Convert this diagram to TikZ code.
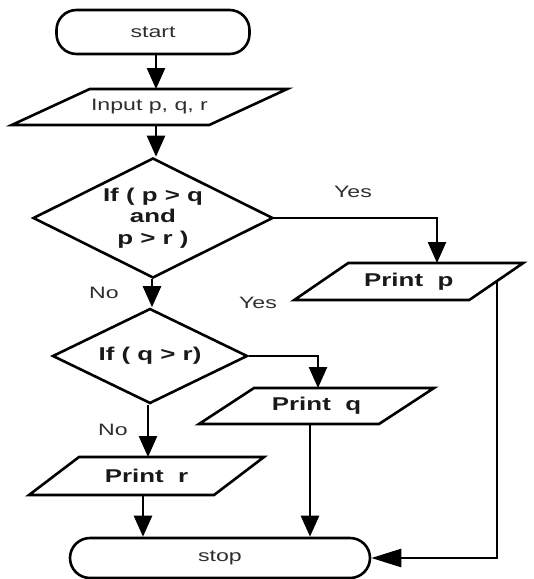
\documentclass[tikz,border=0pt]{standalone}
\usepackage{fontspec}
\setmainfont{Liberation Sans}[FakeStretch=1.4]
\usetikzlibrary{shapes.geometric,arrows.meta}

% outline of a slanted input/output box around a rectangular node
\newcommand\slantbox[2]{%
  \draw[edge] ([xshift=-#2]#1.south west) -- ([xshift=-#2]#1.south east)
    -- ([xshift=#2]#1.north east) -- ([xshift=#2]#1.north west) -- cycle;}

\begin{document}
\begin{tikzpicture}[x=1pt,y=-1pt,
  plain/.style={font=\fontsize{16.5}{19}\selectfont, text=black!82},
  heavy/.style={font=\fontsize{18.5}{21.5}\selectfont\bfseries, text=black!90},
  edge/.style={line width=2.6pt},
  terminal/.style={plain, draw, edge, rectangle, rounded corners=20pt, inner sep=0pt},
  io/.style={rectangle, inner sep=0pt, outer sep=0pt},
  decision/.style={heavy, draw, edge, diamond, aspect=2, inner sep=0pt, align=center},
  arr/.style={edge, -{Triangle[length=21pt,width=18pt]}},
  longarr/.style={edge, -{Triangle[length=30pt,width=18pt]}},
  lbl/.style={plain, inner sep=0pt}]

\useasboundingbox (0,0) rectangle (534,579);

% shapes
\node[terminal, minimum width=193pt, minimum height=44pt] (start) at (153,32) {start};
\node[io, plain, minimum width=197.5pt, minimum height=36pt] (input) at (149.5,107) {Input p, q, r};
\slantbox{input}{39pt}
\node[decision, minimum width=240pt, minimum height=120pt] (d1) at (153,218)
      {If ( p > q\\and\\p > r )};
\node[io, heavy, minimum width=175pt, minimum height=37pt] (printp) at (408.75,281.5) {Print~~p};
\slantbox{printp}{27pt}
\node[decision, minimum width=195pt, minimum height=95pt] (d2) at (150,356) {If ( q > r)};
\node[io, heavy, minimum width=180pt, minimum height=36pt] (printq) at (316.5,406) {Print~~q};
\slantbox{printq}{27.5pt}
\node[io, heavy, minimum width=185pt, minimum height=38pt] (printr) at (146.5,476) {Print~~r};
\slantbox{printr}{25pt}
\node[terminal, minimum width=300pt, minimum height=40pt] (stop) at (220,558) {stop};

% branch labels
\node[lbl] (yes1) at (353,192) {Yes};
\node[lbl] (no1) at (104,293) {No};
\node[lbl] (yes2) at (258,303) {Yes};
\node[lbl] (no2) at (113,430) {No};

% columns used by the vertical connectors
\coordinate (ca) at (156,0);
\coordinate (cb) at (437,0);
\coordinate (cc) at (152,0);
\coordinate (cd) at (318,0);
\coordinate (ce) at (148,0);
\coordinate (cf) at (143,0);
\coordinate (cg) at (310,0);
\coordinate (ch) at (497,0);

% connectors
\draw[arr] (start.south -| ca) -- (input.north -| ca);
\draw[arr] (input.south -| ca) -- (d1.north -| ca);
\draw[arr] (d1.east) -| (printp.north -| cb);
\draw[arr] (d1.south -| cc) -- (d2.north -| cc);
\draw[arr] (d2.east) -| (printq.north -| cd);
\draw[arr] (d2.south -| ce) -- (printr.north -| ce);
\draw[arr] (printr.south -| cf) -- (stop.north -| cf);
\draw[arr] (printq.south -| cg) -- (stop.north -| cg);
\draw[longarr] (printp.east -| ch) |- (stop.east);

\end{tikzpicture}
\end{document}
